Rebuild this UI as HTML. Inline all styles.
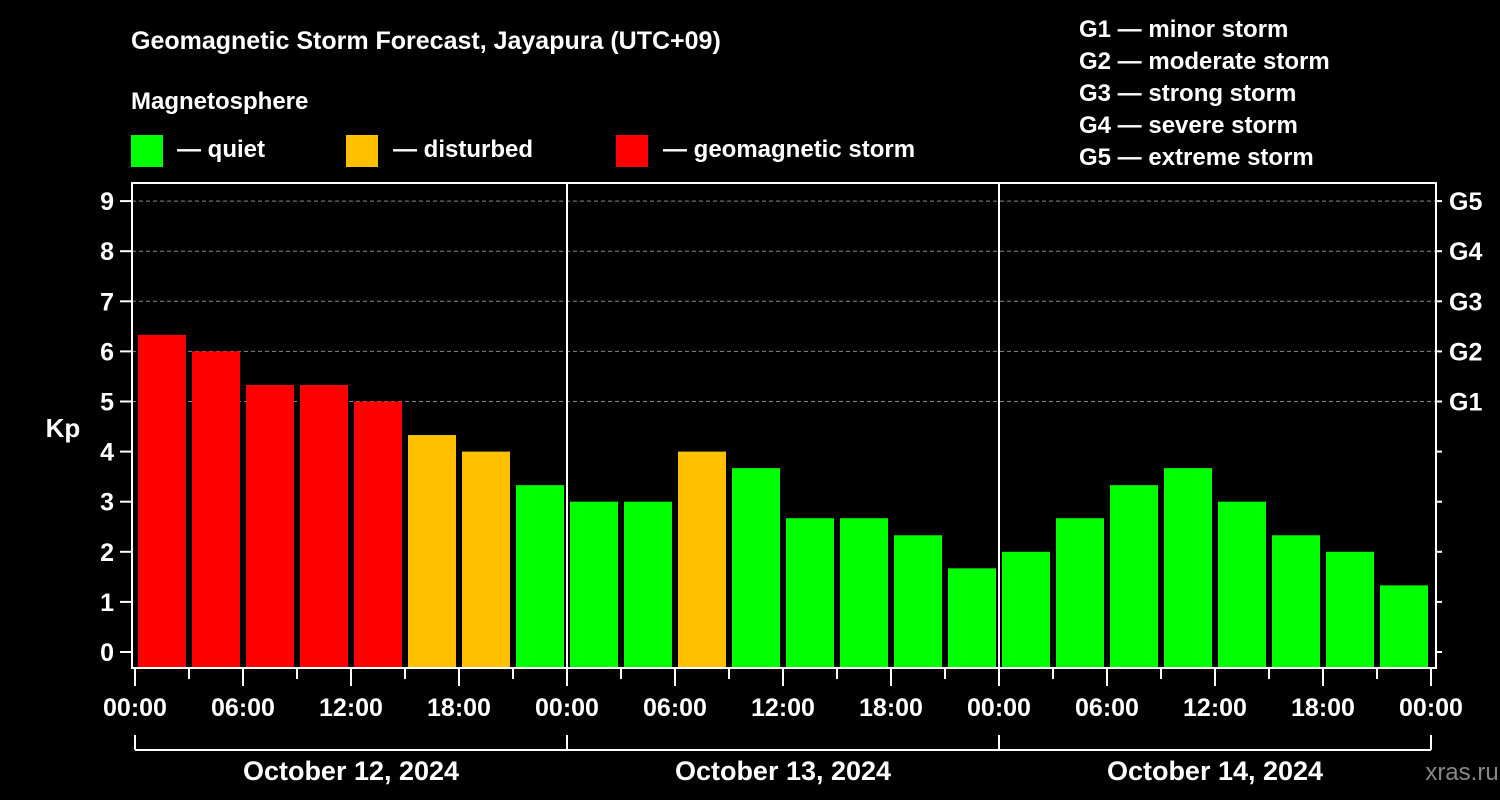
<!DOCTYPE html>
<html><head><meta charset="utf-8"><style>
html,body{margin:0;padding:0;background:#000;}
svg{display:block;font-family:"Liberation Sans",Arial,sans-serif;font-weight:bold;}
</style></head><body>
<svg id="chart" width="1500" height="800" viewBox="0 0 1500 800">
<rect x="0" y="0" width="1500" height="800" fill="#000"/>
<text x="131" y="49" fill="#fff" font-size="25">Geomagnetic Storm Forecast, Jayapura (UTC+09)</text>
<text x="131" y="109" fill="#fff" font-size="24">Magnetosphere</text>
<g><rect x="131" y="135" width="32" height="32" fill="#00ff00"/><text x="177" y="157" fill="#fff" font-size="24">— quiet</text></g>
<g><rect x="346" y="135" width="32" height="32" fill="#ffc000"/><text x="393" y="157" fill="#fff" font-size="24">— disturbed</text></g>
<g><rect x="616" y="135" width="32" height="32" fill="#ff0000"/><text x="663" y="157" fill="#fff" font-size="24">— geomagnetic storm</text></g>
<g fill="#fff" font-size="24">
<text x="1079" y="37">G1 — minor storm</text>
<text x="1079" y="69">G2 — moderate storm</text>
<text x="1079" y="101">G3 — strong storm</text>
<text x="1079" y="133">G4 — severe storm</text>
<text x="1079" y="165">G5 — extreme storm</text>
</g>
<text x="63" y="437" fill="#fff" font-size="26" text-anchor="middle">Kp</text>
<text x="1462" y="780" fill="#888" font-size="24" text-anchor="middle" font-weight="normal">xras.ru</text>
<g id="grid"></g><g id="bars"></g><g id="axes"></g>
</svg>
<script>
const values=[6.33,6,5.33,5.33,5,4.33,4,3.33,3,3,4,3.67,2.67,2.67,2.33,1.67,2,2.67,3.33,3.67,3,2.33,2,1.33];
const days=["October 12, 2024","October 13, 2024","October 14, 2024"];
const hourLabels=["00:00","06:00","12:00","18:00"];
const yTicks=[0,1,2,3,4,5,6,7,8,9];
const gLabels=["G1","G2","G3","G4","G5"];
const NS="http://www.w3.org/2000/svg";
const X0=135,SLOT=54,Y0=652,UNIT=50.1,TOP=183,BOT=668,LEFT=132,RIGHT=1436;
const xs=i=>X0+i*SLOT;
const ys=v=>Y0-v*UNIT;
function mk(t,a,p){const e=document.createElementNS(NS,t);for(const k in a)e.setAttribute(k,a[k]);p.appendChild(e);return e;}
const grid=document.getElementById('grid'),bars=document.getElementById('bars'),axes=document.getElementById('axes');
for(let k=5;k<=9;k++){const l=mk('line',{x1:LEFT,x2:RIGHT,y1:ys(k),y2:ys(k),stroke:'#888','stroke-dasharray':'4,3','stroke-width':1},grid);

}
values.forEach((v,i)=>{const c=v>=5?'#ff0000':(v>=4?'#ffc000':'#00ff00');
const r=mk('rect',{x:xs(i)+3,y:ys(v),width:48,height:BOT-ys(v),fill:c},bars);

});
mk('rect',{x:LEFT,y:TOP,width:RIGHT-LEFT,height:BOT-TOP,fill:'none',stroke:'#fff','stroke-width':2},axes);
for(let d=1;d<3;d++){mk('line',{x1:xs(d*8),x2:xs(d*8),y1:TOP,y2:BOT,stroke:'#fff','stroke-width':2},axes);}
yTicks.forEach(v=>{mk('line',{x1:120,x2:LEFT,y1:ys(v),y2:ys(v),stroke:'#fff','stroke-width':2},axes);
mk('line',{x1:RIGHT,x2:1442,y1:ys(v),y2:ys(v),stroke:'#fff','stroke-width':2},axes);
const t=mk('text',{x:114,y:ys(v)+9,fill:'#fff','font-size':25,'text-anchor':'end'},axes);t.textContent=v;

});
gLabels.forEach((g,k)=>{const t=mk('text',{x:1449,y:ys(5+k)+9,fill:'#fff','font-size':25},axes);t.textContent=g;

});
for(let i=0;i<=24;i++){const major=i%2===0;mk('line',{x1:xs(i),x2:xs(i),y1:BOT,y2:major?686:679,stroke:'#fff','stroke-width':2},axes);
if(major){const t=mk('text',{x:xs(i),y:716,fill:'#fff','font-size':25,'text-anchor':'middle'},axes);t.textContent=hourLabels[(i/2)%4];

}}
mk('line',{x1:xs(0),x2:xs(24),y1:750,y2:750,stroke:'#fff','stroke-width':2},axes);
for(let d=0;d<=3;d++)mk('line',{x1:xs(d*8),x2:xs(d*8),y1:735,y2:750,stroke:'#fff','stroke-width':2},axes);
days.forEach((s,d)=>{const t=mk('text',{x:xs(d*8+4),y:780,fill:'#fff','font-size':27,'text-anchor':'middle'},axes);t.textContent=s;

});
</script>
</body></html>
